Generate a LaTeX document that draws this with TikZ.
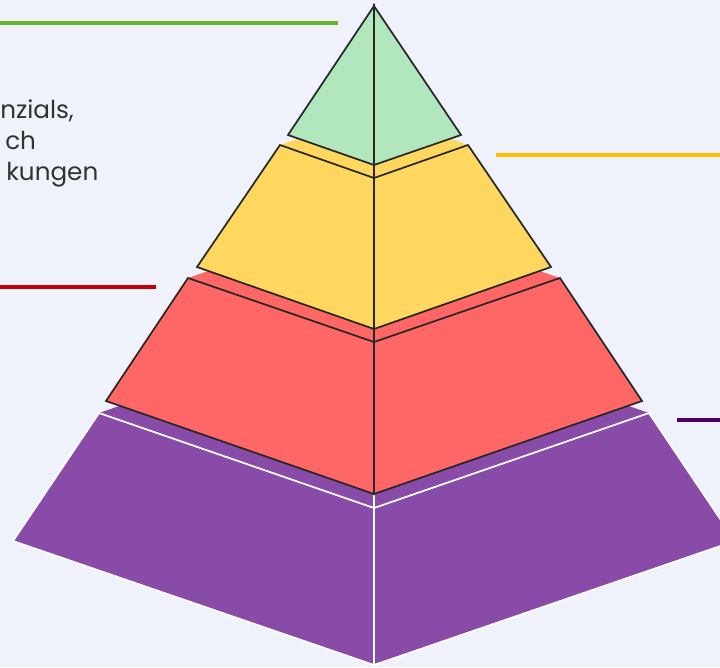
\documentclass[tikz,border=0pt]{standalone}
\usepackage{fontspec}
\setmainfont{Poppins}

\definecolor{slidebg}{RGB}{239,242,250}
\definecolor{edgedark}{RGB}{40,40,40}
\definecolor{tiergreen}{RGB}{178,230,189}
\definecolor{tieryellow}{RGB}{255,215,95}
\definecolor{tierred}{RGB}{255,102,102}
\definecolor{tierpurple}{RGB}{137,75,168}
\definecolor{linegreen}{RGB}{104,180,48}
\definecolor{lineyellow}{RGB}{255,192,0}
\definecolor{linered}{RGB}{192,0,0}
\definecolor{linepurple}{RGB}{75,0,102}
\definecolor{textgray}{RGB}{50,50,50}

\begin{document}
\begin{tikzpicture}[x=0.75pt, y=-0.75pt,
        face/.style={draw=edgedark, line width=1.3pt},
        baseface/.style={draw=white, line width=1.3pt},
        levelline/.style={line width=3pt},
        sidetext/.style={anchor=base west, inner sep=0pt, text=textgray, font=\fontsize{18.5}{22}\selectfont}]
        % Slide background, cropped
        \fill[slidebg] (0,0) rectangle (720,667);
        \clip (0,0) rectangle (720,667);

        % Side text (cut at the left edge)
        \node[sidetext] (textone) at (0,118) {nzials,};
        \node[sidetext] (texttwo) at (5,149) {ch};
        \node[sidetext] (textthree) at (6,180) {kungen};

        % Level lines
        \draw[levelline, linegreen] (0,23) -- (338,23);
        \draw[levelline, lineyellow] (496,155) -- (720,155);
        \draw[levelline, linered] (0,287) -- (156,287);
        \draw[levelline, linepurple] (677,420) -- (720,420);

        % Purple tier (base)
        \fill[tierpurple] (99,413) -- (374,318) -- (649,413) -- (374,508) -- cycle;
        \draw[baseface, fill=tierpurple] (99,413) -- (374,508) -- (374,665) -- (13,541) -- cycle;
        \draw[baseface, fill=tierpurple] (374,508) -- (649,413) -- (735,541) -- (374,665) -- cycle;
        \draw[white, line width=1.3pt] (374,494) -- (374,508);

        % Red tier
        \fill[tierred] (188,278) -- (374,214) -- (560,278) -- (374,342) -- cycle;
        \draw[face, fill=tierred] (188,278) -- (374,342) -- (374,494) -- (106,401) -- cycle;
        \draw[face, fill=tierred] (374,342) -- (560,278) -- (642,401) -- (374,494) -- cycle;

        % Yellow tier
        \fill[tieryellow] (280,145) -- (374,112) -- (468,145) -- (374,178) -- cycle;
        \draw[face, fill=tieryellow] (280,145) -- (374,178) -- (374,329) -- (197,267) -- cycle;
        \draw[face, fill=tieryellow] (374,178) -- (468,145) -- (551,267) -- (374,329) -- cycle;

        % Green tier (top)
        \draw[face, fill=tiergreen] (374,6) -- (374,165) -- (288,135) -- cycle;
        \draw[face, fill=tiergreen] (374,6) -- (461,135) -- (374,165) -- cycle;

        % Centre edge
        \draw[edgedark, line width=1.3pt] (374,6) -- (374,494);
    \end{tikzpicture}
\end{document}
